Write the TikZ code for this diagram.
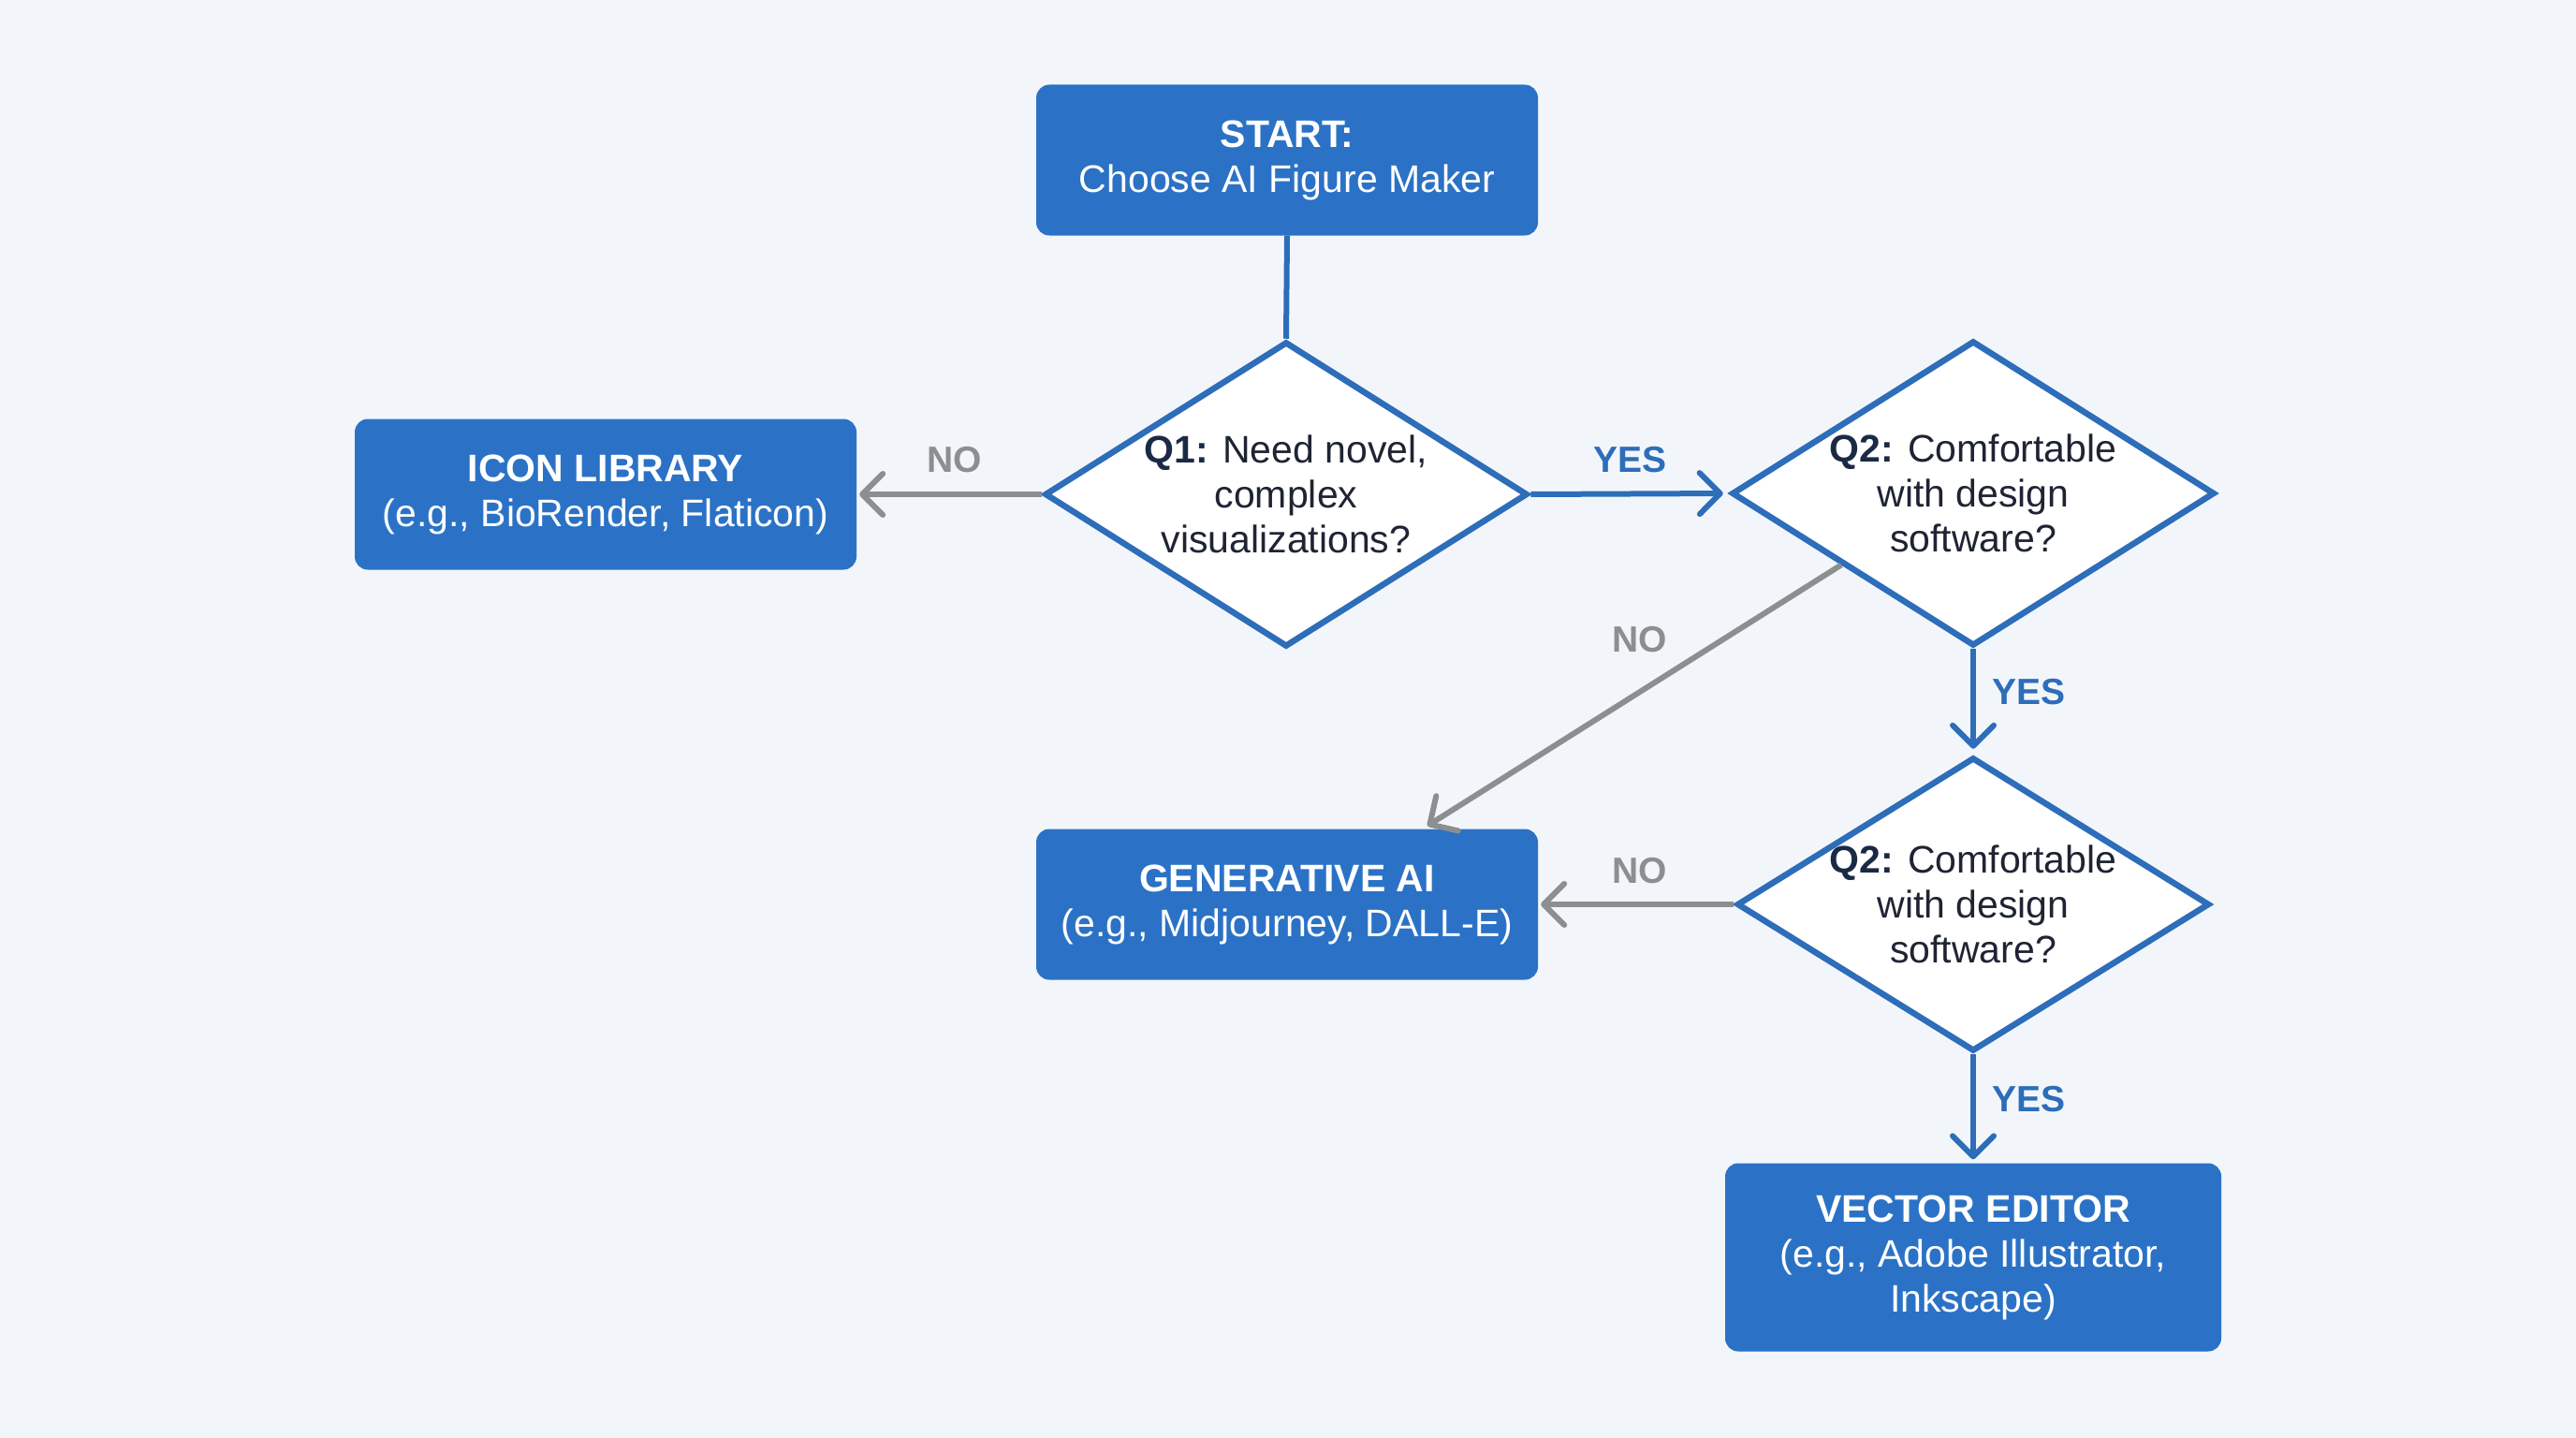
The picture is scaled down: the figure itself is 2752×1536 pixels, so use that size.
\documentclass[tikz,border=0pt]{standalone}
\usepackage{fontspec}
\setmainfont{Liberation Sans}
\usetikzlibrary{shapes.geometric,arrows.meta,calc}
\definecolor{bg}{HTML}{F2F6FA}
\definecolor{boxblue}{HTML}{2B72C6}
\definecolor{lineblue}{HTML}{2D6DB9}
\definecolor{arrgray}{HTML}{8C8E90}
\definecolor{txtdark}{HTML}{1E2433}
\definecolor{qdark}{HTML}{1B2A44}
\begin{document}
\begin{tikzpicture}[x=1pt,y=-1pt,
  box/.style={draw=none, fill=boxblue, rounded corners=14pt, text=white, align=center,
    minimum width=536pt, minimum height=161pt, inner sep=0pt,
    font=\fontsize{41}{48}\selectfont},
  dec/.style={diamond, draw=lineblue, line width=6.5pt, fill=white, minimum width=516pt,
    minimum height=326pt, inner sep=0pt, aspect=1.58},
  dectext/.style={align=center, text=txtdark, inner sep=0pt,
    font=\fontsize{41}{48}\selectfont},
  conn/.style={line width=6pt, draw=lineblue},
  yesarrow/.style={line width=6pt, draw=lineblue, -{Straight Barb[length=22pt,width=44pt,round]}},
  noarrow/.style={line width=6pt, draw=arrgray, -{Straight Barb[length=22pt,width=44pt,round]}},
  nolabel/.style={text=arrgray, font=\fontsize{39}{40}\selectfont\bfseries},
  yeslabel/.style={text=lineblue, font=\fontsize{39}{40}\selectfont\bfseries},
]
\fill[bg] (0,0) rectangle (2752,1536);
\useasboundingbox (0,0) rectangle (2752,1536);

\node[box] (start) at (1375,171) {\textbf{START:}\\Choose AI Figure Maker};
\node[dec] (q1) at (1374,528) {};
\node[dectext] (q1t) at (q1) {\textbf{\color{qdark}Q1:} Need novel,\\complex\\visualizations?};
\node[box] (icon) at (647,528) {\textbf{ICON LIBRARY}\\(e.g., BioRender, Flaticon)};
\node[dec] (q2a) at (2108,527) {};
\node[dectext] (q2at) at (q2a) {\textbf{\color{qdark}Q2:} Comfortable\\with design\\software?};
\node[dec, minimum width=505pt, minimum height=314pt] (q2b) at (2108,966) {};
\node[dectext] (q2bt) at (q2b) {\textbf{\color{qdark}Q2:} Comfortable\\with design\\software?};
\node[box] (gen) at (1375,966) {\textbf{GENERATIVE AI}\\(e.g., Midjourney, DALL-E)};
\node[box, minimum width=530pt, minimum height=201pt] (vec) at (2108,1343) {\textbf{VECTOR EDITOR}\\(e.g., Adobe Illustrator,\\Inkscape)};

\coordinate (diagstart) at ($(q2a.west)!0.46!(q2a.south)$);
\coordinate (diagend) at ($(gen.north west)!0.77!(gen.north east)$);

\draw[conn] (start.south) -- (q1.north);
\draw[noarrow, shorten >=3pt] (q1.west) -- (icon.east);
\draw[yesarrow, shorten >=6pt] (q1.east) -- (q2a.west);
\draw[yesarrow, shorten >=6pt] (q2a.south) -- (q2b.north);
\draw[noarrow, shorten >=6pt] (diagstart) -- (diagend);
\draw[noarrow, shorten >=3pt] (q2b.west) -- (gen.east);
\draw[yesarrow, shorten >=4pt] (q2b.south) -- (vec.north);

\node[nolabel] (l1) at (1020,491) {NO};
\node[yeslabel] (l2) at (1741,491) {YES};
\node[nolabel] (l3) at (1752,683) {NO};
\node[yeslabel] (l4) at (2167,739) {YES};
\node[nolabel] (l5) at (1752,930) {NO};
\node[yeslabel] (l6) at (2167,1174) {YES};
\end{tikzpicture}
\end{document}
